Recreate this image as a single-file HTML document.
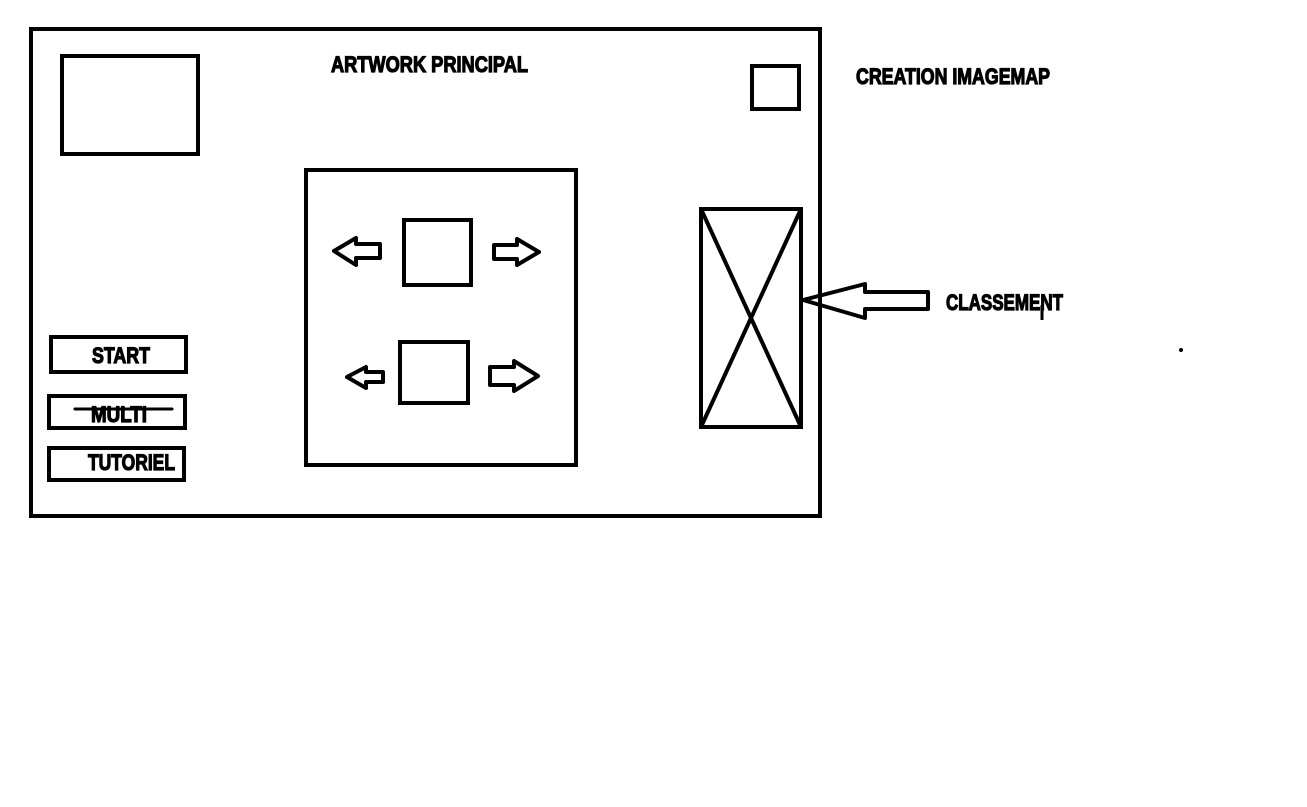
<!DOCTYPE html>
<html><head><style>
body{margin:0;background:#fff;width:1307px;height:802px;overflow:hidden;}
svg text{font-family:"Liberation Sans Narrow","Liberation Sans",sans-serif;font-weight:bold;font-size:22px;fill:#000;stroke:#000;stroke-width:1.2px;}
</style></head><body>
<svg width="1307" height="802" xmlns="http://www.w3.org/2000/svg">
<g fill="none" stroke="#000" stroke-width="4">
<rect x="31" y="29" width="789" height="487"/>
<rect x="62" y="56" width="136" height="98"/>
<rect x="752" y="66" width="47" height="43"/>
<rect x="306" y="170" width="270" height="295"/>
<rect x="404" y="220" width="67" height="65"/>
<rect x="400" y="342" width="68" height="61"/>
<rect x="701" y="209" width="100" height="218"/>
<line x1="701" y1="209" x2="801" y2="427"/>
<line x1="801" y1="209" x2="701" y2="427"/>
<rect x="51" y="337" width="135" height="35"/>
<rect x="49" y="396" width="136" height="32"/>
<rect x="49" y="448" width="135" height="32"/>
<g stroke-width="4" stroke-linejoin="round">
<polygon points="334,251 356,238 356,244 380,244 380,258 356,258 356,265"/>
<polygon points="539,252 517,239 517,245 494,245 494,259 517,259 517,265"/>
<polygon points="347,377 366,367 366,372 383,372 383,382 366,382 366,388"/>
<polygon points="538,376 514,361 514,367 490,367 490,385 514,385 514,391"/>
<polygon points="803,300 865,284 865,292 928,292 928,309 865,309 865,318"/>
</g>
<line x1="75" y1="409" x2="172" y2="409" stroke-width="3" stroke-linecap="round"/>
</g>
<text x="331" y="72" textLength="197" lengthAdjust="spacingAndGlyphs">ARTWORK PRINCIPAL</text>
<text x="856" y="84" textLength="194" lengthAdjust="spacingAndGlyphs">CREATION IMAGEMAP</text>
<text x="946" y="310" textLength="117" lengthAdjust="spacingAndGlyphs">CLASSEMENT</text>
<text x="92" y="363" textLength="58" lengthAdjust="spacingAndGlyphs">START</text>
<text x="91" y="422" textLength="56" lengthAdjust="spacingAndGlyphs">MULTI</text>
<text x="88" y="470" textLength="87" lengthAdjust="spacingAndGlyphs">TUTORIEL</text>
<circle cx="1181" cy="350" r="2" fill="#000"/>
<line x1="1042" y1="305" x2="1042" y2="320" stroke="#000" stroke-width="3"/>
</svg>
</body></html>
